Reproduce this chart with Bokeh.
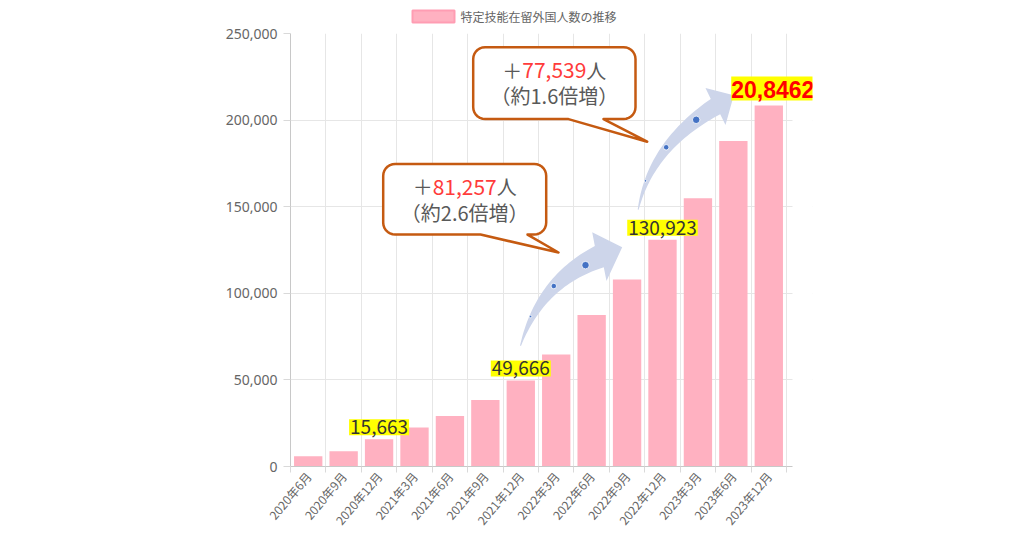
import numpy as np
from bokeh.plotting import figure
from bokeh.layouts import column
from bokeh.models import Range1d, FixedTicker, Label, NumeralTickFormatter
from bokeh.core.properties import value
from bokeh.embed import file_html
from bokeh.resources import INLINE

# ---------------- data ----------------
categories = ["2020年6月", "2020年9月", "2020年12月", "2021年3月", "2021年6月",
              "2021年9月", "2021年12月", "2022年3月", "2022年6月", "2022年9月",
              "2022年12月", "2023年3月", "2023年6月", "2023年12月"]
counts = [5950, 8769, 15663, 22567, 29144, 38337, 49666, 64730, 87471,
          108000, 130923, 154864, 188000, 208462]
y_ticks = [0, 50000, 100000, 150000, 200000, 250000]
legend_label = "特定技能在留外国人数の推移"
highlight_idx = [2, 6, 10]
highlight_text = ["15,663", "49,666", "130,923"]
peak_idx = 13
peak_text = "20,8462"
callout_numbers = ["81,257", "77,539"]
callout_ratios = ["（約2.6倍増）", "（約1.6倍増）"]

# ---------------- layout (page pixels) ----------------
W, H = 1024, 536
TOP_H = 25                      # legend strip height
FL, FT, FB = 290, 33, 468       # frame left / 250,000 line / zero line
CAT_RIGHT = 786                 # right edge of last category
AXIS_END = 792                  # where the x axis / grid lines stop
FR = 812                        # frame right (room for peak label)
n = len(categories)
y_max = y_ticks[-1]
cat_w = (CAT_RIGHT - FL) / n


def X(px):
    return (px - FL) / cat_w


def Y(py):
    return (FB - py) / (FB - FT) * y_max


centers = [i + 0.5 for i in range(n)]
bounds = list(range(n + 1))

# ---------------- legend strip (frame aligned with main frame) ----------------
top = figure(width=W, height=TOP_H, x_range=Range1d(FL, FR), y_range=Range1d(TOP_H, 0),
             output_backend="svg", toolbar_location=None,
             x_axis_type=None, y_axis_type=None, min_border=0,
             min_border_left=FL, min_border_right=W - FR)
top.outline_line_color = None
top.grid.visible = False
top.quad(left=[412], right=[454], top=[10], bottom=[22], fill_color="#FFB1C1",
         line_color="#FF9DB3", line_width=2)
top.text(x=[460], y=[16], text=[legend_label], text_baseline="middle",
         text_align="left", text_font=value("Noto Sans CJK JP"),
         text_font_size="12px", text_color="#666666")

# ---------------- main chart ----------------
MAIN_H = H - TOP_H
p = figure(width=W, height=MAIN_H,
           x_range=Range1d(0, X(FR)), y_range=Range1d(0, y_max),
           output_backend="svg", toolbar_location=None,
           min_border_left=FL, min_border_right=W - FR,
           min_border_top=FT - TOP_H, min_border_bottom=H - FB)
p.outline_line_color = None
p.background_fill_color = "white"
p.border_fill_color = "white"

# x axis: labels at category centres, tick marks at category boundaries
p.xaxis.ticker = FixedTicker(ticks=centers, minor_ticks=bounds)
p.xaxis.major_label_overrides = {c: lab for c, lab in zip(centers, categories)}
p.xaxis.bounds = (0, X(AXIS_END))
p.xaxis.major_label_orientation = 0.87
p.xaxis.major_label_text_font = "Noto Sans CJK JP"
p.xaxis.major_label_text_font_size = "12px"
p.xaxis.major_label_text_color = "#666666"
p.xaxis.major_label_standoff = 1
p.xaxis.major_tick_out = 0
p.xaxis.major_tick_in = 0
p.xaxis.minor_tick_out = 6
p.xaxis.minor_tick_in = 0
p.xaxis.minor_tick_line_color = "#D9D9D9"
p.xaxis.axis_line_color = "#C8C8C8"

# y axis
p.yaxis.ticker = FixedTicker(ticks=y_ticks)
p.yaxis.formatter = NumeralTickFormatter(format="0,0")
p.yaxis.major_label_text_font = "Noto Sans"
p.yaxis.major_label_text_font_size = "14px"
p.yaxis.major_label_text_color = "#666666"
p.yaxis.major_tick_out = 7
p.yaxis.major_tick_in = 0
p.yaxis.minor_tick_out = 0
p.yaxis.major_tick_line_color = "#D9D9D9"
p.yaxis.major_label_standoff = 6
p.yaxis.axis_line_color = "#C8C8C8"

p.xgrid.ticker = FixedTicker(ticks=bounds)
p.xgrid.grid_line_color = "#E6E6E6"
p.ygrid.grid_line_color = "#E6E6E6"

# hide grid beyond the end of the category axis
p.quad(left=[X(AXIS_END)], right=[X(FR) + 1], bottom=[-y_max], top=[2 * y_max],
       fill_color="white", line_color=None)

# bars
p.vbar(x=centers, top=counts, width=0.8, fill_color="#FFB1C1", line_color=None)


# ---------------- arrows ----------------
def curved_arrow(T, C, B, tip, wings, w0, w1, m=40):
    T, C, B, tip = map(np.array, (T, C, B, tip))
    u = np.linspace(0, 1, m)
    P = ((1 - u) ** 2)[:, None] * T + (2 * u * (1 - u))[:, None] * C + (u ** 2)[:, None] * B
    D = (2 * (1 - u))[:, None] * (C - T) + (2 * u)[:, None] * (B - C)
    N = np.stack([-D[:, 1], D[:, 0]], 1) / np.linalg.norm(D, axis=1)[:, None]
    w = w0 + (w1 - w0) * u
    L = P + N * w[:, None] / 2
    R = P - N * w[:, None] / 2
    wa, wb = np.array(wings[0]), np.array(wings[1])
    if np.dot(wa - B, N[-1]) < 0:
        wa, wb = wb, wa
    pts = list(L) + [wa, tip, wb] + list(R[::-1])
    return [X(q[0]) for q in pts], [Y(q[1]) for q in pts]


arrow_col = "#CDD5EA"
ax1, ay1 = curved_arrow((520, 346.7), (540, 282), (598.8, 257.2), (621.7, 247.7),
                        [(591.7, 232.7), (606, 281.7)], 1, 23)
ax2, ay2 = curved_arrow((637.7, 210), (650, 146.4), (715, 106.4), (733.3, 95),
                        [(705, 87.7), (725, 125)], 1, 18)
p.patch(ax1, ay1, fill_color=arrow_col, line_color=None)
p.patch(ax2, ay2, fill_color=arrow_col, line_color=None)

dots_px = [(530, 317.3), (553.3, 286.7), (585, 265.7),
           (645, 181), (665.7, 147.3), (695.7, 119.7)]
p.scatter([X(a) for a, b in dots_px], [Y(b) for a, b in dots_px],
          size=[2.5, 5.5, 7.5, 2.5, 5.5, 7.5], fill_color="#4472C4",
          line_color="white", line_width=0.8)


# ---------------- callouts ----------------
def bubble(x0, y0, x1, y1, r, ta, tb, tip):
    pts = []

    def arc(cx, cy, a0, a1):
        for a in np.linspace(np.radians(a0), np.radians(a1), 8):
            pts.append((cx + r * np.cos(a), cy + r * np.sin(a)))
    arc(x1 - r, y0 + r, -90, 0)
    arc(x1 - r, y1 - r, 0, 90)
    pts.append((tb, y1))
    pts.append(tip)
    pts.append((ta, y1))
    arc(x0 + r, y1 - r, 90, 180)
    arc(x0 + r, y0 + r, 180, 270)
    return [X(q[0]) for q in pts], [Y(q[1]) for q in pts]


boxes = [(382.7, 164, 545.7, 235, 480, 527, (558, 253)),
         (472.7, 46.7, 635, 119, 568, 603, (646.7, 141.7))]
for (x0, y0, x1, y1, ta, tb, tip), num, ratio in zip(boxes, callout_numbers, callout_ratios):
    bx, by = bubble(x0, y0, x1, y1, 12, ta, tb, tip)
    p.patch(bx, by, fill_color="white", line_color="#C55A11", line_width=2.5,
            line_join="round")
    cx = (x0 + x1) / 2
    p.add_layout(Label(x=X(cx), y=Y(y0 + 23), text=num, text_align="center",
                       text_baseline="middle", text_font="Noto Sans CJK JP",
                       text_font_size="21px", text_color="#FF3B3B"))
    p.add_layout(Label(x=X(cx), y=Y(y0 + 23), x_offset=-32, text="＋", text_align="right",
                       text_baseline="middle", text_font="Noto Sans CJK JP",
                       text_font_size="20px", text_color="#595959"))
    p.add_layout(Label(x=X(cx), y=Y(y0 + 23), x_offset=32, text="人", text_align="left",
                       text_baseline="middle", text_font="Noto Sans CJK JP",
                       text_font_size="20px", text_color="#595959"))
    p.add_layout(Label(x=X(cx), y=Y(y0 + 48.5), text=ratio, text_align="center",
                       text_baseline="middle", text_font="Noto Sans CJK JP",
                       text_font_size="20px", text_color="#595959"))

# ---------------- highlighted values ----------------
for idx, txt in zip(highlight_idx, highlight_text):
    p.add_layout(Label(x=idx + 0.5, y=counts[idx], y_offset=4, text=txt,
                       text_align="center", text_baseline="bottom",
                       text_font="Noto Sans CJK JP", text_font_size="19px",
                       text_color="#333333", background_fill_color="#FFFF00",
                       padding=1))

p.add_layout(Label(x=peak_idx + 0.5, y=counts[peak_idx], y_offset=5, x_offset=4,
                   text=peak_text, text_align="center", text_baseline="bottom",
                   text_font="Liberation Sans", text_font_style="bold",
                   text_font_size="23px", text_color="#FF0000",
                   background_fill_color="#FFFF00",
                   padding=dict(left=0, right=0, top=5, bottom=2)))

layout = column(top, p, spacing=0)
open("out.html", "w").write(file_html(layout, INLINE))
